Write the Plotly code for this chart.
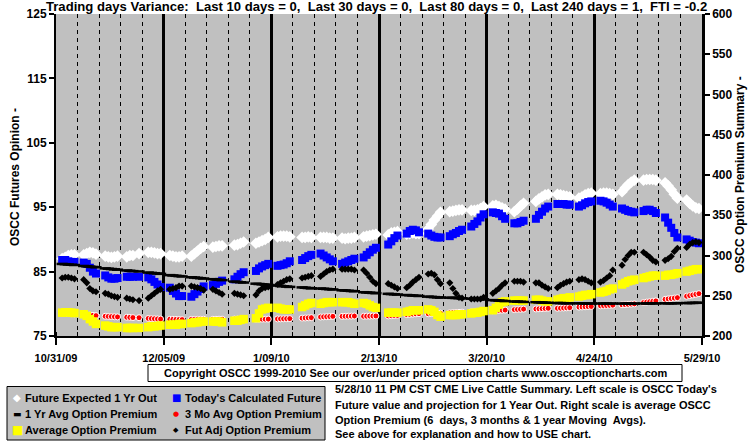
import pandas as pd
import plotly.graph_objects as go

# ---------------- data ----------------
holidays = ["2009-11-26", "2009-12-25", "2010-01-01", "2010-01-18", "2010-02-15", "2010-04-02"]
trade_dates = [d for d in pd.bdate_range("2009-11-02", "2010-05-28")
               if d.strftime("%Y-%m-%d") not in holidays]

tick_dates = ["2009-10-31", "2009-12-05", "2010-01-09", "2010-02-13",
              "2010-03-20", "2010-04-24", "2010-05-29"]
tick_labels = ["10/31/09", "12/05/09", "1/09/10", "2/13/10", "3/20/10", "4/24/10", "5/29/10"]
left_ticks = [75, 85, 95, 105, 115, 125]
left_grid = [80, 85, 90, 95, 100, 105, 110, 115, 120]
right_ticks = [200, 250, 300, 350, 400, 450, 500, 550, 600]

# Future Expected 1 Yr Out (left scale)
future_1yr = [
    87.0, 87.2, 87.5, 87.6, 87.6,
    87.6, 87.8, 88.0, 87.9, 87.7,
    87.4, 87.3, 87.2, 87.3, 87.4,
    87.3, 87.5, 87.5, 87.8,
    88.0, 88.0, 87.9, 87.8, 87.8,
    87.5, 87.4, 87.3, 87.3, 87.4,
    87.4, 87.8, 88.2, 88.6, 88.9,
    88.8, 88.9, 89.0, 89.0,
    89.1, 89.2, 89.4, 89.6,
    89.4, 89.6, 89.8, 90.0, 90.3,
    90.4, 90.5, 90.5, 90.5, 90.4,
    90.3, 90.3, 90.4, 90.3,
    90.3, 90.3, 90.3, 90.2, 90.2,
    90.2, 90.1, 90.2, 90.2, 90.3,
    90.4, 90.5, 90.6, 90.7, 90.8,
    90.7, 91.0, 91.1, 91.2,
    90.8, 90.9, 91.0, 90.9, 90.9,
    91.6, 92.3, 93.0, 93.6, 94.2,
    94.3, 94.4, 94.5, 94.6, 94.6,
    94.5, 94.5, 94.6, 94.8, 95.1,
    95.2, 95.3, 95.1, 94.9, 94.7,
    94.3, 94.7, 95.2, 95.6,
    95.9, 96.3, 96.6, 96.9, 97.0,
    97.0, 96.9, 96.8, 96.7, 96.6,
    96.4, 96.6, 96.9, 97.1, 97.2,
    97.1, 97.2, 97.2, 97.1, 97.0,
    97.4, 98.0, 98.5, 98.9, 99.2,
    99.2, 99.3, 99.3, 99.3, 99.2,
    98.8, 98.3, 97.7, 97.0, 96.4,
    96.1, 95.6, 95.2, 94.9, 94.8,
]

# Today's Calculated Future (left scale)
today_future = [
    86.8, 86.8, 86.6, 86.5, 86.5,
    86.4, 86.2, 85.6, 85.0, 84.7,
    84.4, 84.1, 83.9, 83.9, 84.0,
    84.2, 84.2, 84.2, 84.2,
    84.1, 83.8, 83.4, 83.0, 82.6,
    82.5, 82.0, 81.6, 81.2, 81.2,
    81.1, 81.5, 81.9, 82.3, 82.7,
    82.9, 83.1, 83.4, 83.6,
    83.8, 84.2, 84.6, 84.9,
    85.1, 85.5, 85.8, 86.0, 86.2,
    85.9, 86.0, 86.1, 86.3, 86.6,
    86.8, 87.1, 87.4, 87.6,
    87.8, 87.5, 87.2, 86.9, 86.6,
    86.2, 86.4, 86.6, 86.8, 87.0,
    87.2, 87.6, 88.0, 88.4, 88.7,
    89.2, 89.7, 90.2, 90.6,
    90.9, 91.3, 91.5, 91.4, 91.1,
    90.9, 90.6, 90.4, 90.3, 90.3,
    90.5, 90.8, 91.0, 91.3, 91.5,
    92.0, 92.4, 92.8, 93.4, 93.9,
    94.2, 94.1, 94.0, 93.6, 93.2,
    92.5, 92.5, 92.7, 92.9,
    93.2, 93.8, 94.3, 94.8, 95.1,
    95.5, 95.5, 95.5, 95.4, 95.4,
    95.1, 95.3, 95.6, 95.8, 95.9,
    96.0, 95.9, 95.7, 95.4, 95.1,
    94.8, 94.6, 94.4, 94.3, 94.2,
    94.4, 94.6, 94.6, 94.4, 94.1,
    93.4, 92.6, 91.8, 91.0, 90.3,
    90.0, 89.8, 89.6, 89.5, 89.4,
]

# 1 Yr Avg Option Premium (right scale)
yr_avg = [
    289.5, 289.2, 288.8, 288.5, 288.2,
    287.0, 286.6, 286.2, 285.8, 285.4,
    284.0, 283.6, 283.2, 282.8, 282.4,
    281.4, 281.0, 280.6, 280.2,
    278.8, 278.4, 278.0, 277.6, 277.2,
    275.6, 275.2, 274.8, 274.4, 274.0,
    273.0, 272.6, 272.2, 271.8, 271.4,
    270.6, 270.2, 269.8, 269.4,
    267.6, 267.2, 266.8, 266.4,
    265.0, 264.6, 264.2, 263.8, 263.4,
    262.6, 262.2, 261.8, 261.4, 261.0,
    260.4, 260.0, 259.6, 259.2,
    259.0, 258.7, 258.4, 258.1, 257.8,
    256.8, 256.5, 256.2, 255.9, 255.6,
    254.4, 254.1, 253.8, 253.5, 253.2,
    252.4, 252.1, 251.8, 251.5,
    250.9, 250.6, 250.3, 250.0, 249.7,
    248.9, 248.6, 248.3, 248.0, 247.7,
    247.6, 247.4, 247.2, 247.0, 246.8,
    246.4, 246.2, 246.0, 245.8, 245.6,
    244.6, 244.3, 244.0, 243.7, 243.4,
    242.9, 242.7, 242.5, 242.3,
    242.0, 241.8, 241.6, 241.4, 241.2,
    241.0, 240.9, 240.8, 240.7, 240.6,
    240.6, 240.5, 240.5, 240.4, 240.4,
    240.4, 240.3, 240.3, 240.3, 240.3,
    240.3, 240.3, 240.3, 240.3, 240.3,
    240.4, 240.4, 240.4, 240.5, 240.5,
    240.6, 240.6, 240.7, 240.7, 240.8,
    240.9, 241.0, 241.1, 241.2, 241.3,
]

# 3 Mo Avg Option Premium (right scale)
mo3_avg = [
    228.5, 228.3, 228.0, 227.8, 227.5,
    226.5, 226.2, 225.9, 225.6, 225.3,
    224.5, 224.3, 224.1, 223.9, 223.7,
    223.3, 223.1, 222.9, 222.7,
    221.8, 221.6, 221.4, 221.2, 221.0,
    220.8, 220.7, 220.6, 220.5, 220.4,
    220.6, 220.6, 220.7, 220.7, 220.8,
    220.8, 220.8, 220.9, 220.9,
    221.0, 221.0, 221.1, 221.1,
    220.8, 220.8, 220.9, 220.9, 221.0,
    221.2, 221.3, 221.4, 221.5, 221.6,
    222.2, 222.4, 222.6, 222.8,
    223.6, 223.8, 224.0, 224.2, 224.4,
    224.4, 224.5, 224.6, 224.7, 224.8,
    224.5, 224.6, 224.7, 224.8, 224.9,
    225.0, 225.2, 225.4, 225.6,
    226.6, 226.9, 227.2, 227.5, 227.8,
    227.6, 227.8, 228.0, 228.2, 228.4,
    228.8, 229.0, 229.2, 229.4, 229.6,
    230.0, 230.2, 230.4, 230.6, 230.8,
    231.4, 231.6, 231.8, 232.0, 232.2,
    232.8, 233.0, 233.2, 233.4,
    233.6, 233.8, 234.0, 234.2, 234.4,
    234.4, 234.6, 234.8, 235.0, 235.2,
    235.9, 236.1, 236.3, 236.5, 236.7,
    237.5, 237.7, 237.9, 238.1, 238.3,
    238.8, 239.0, 239.3, 239.6, 239.9,
    241.6, 242.1, 242.6, 243.1, 243.6,
    245.6, 246.1, 246.6, 247.1, 247.6,
    249.4, 250.2, 251.0, 251.8, 252.6,
]

# Average Option Premium (right scale)
avg_prem = [
    229.0, 229.5, 229.5, 229.0, 228.5,
    227.0, 225.0, 221.0, 218.0, 215.0,
    213.0, 212.0, 211.0, 211.0, 211.0,
    210.0, 210.0, 210.0, 210.0,
    211.0, 212.0, 212.0, 212.5, 213.0,
    214.0, 214.0, 214.0, 215.0, 215.0,
    216.0, 217.0, 217.0, 218.0, 218.0,
    218.0, 218.0, 218.0, 217.0,
    219.0, 219.0, 220.0, 221.0,
    222.0, 228.0, 233.0, 234.0, 235.0,
    235.0, 234.0, 233.0, 233.0, 233.0,
    236.0, 238.0, 240.0, 241.0,
    240.0, 241.0, 242.0, 242.0, 242.0,
    242.0, 242.0, 242.0, 241.0, 240.0,
    241.0, 240.0, 238.0, 236.0, 235.0,
    229.0, 229.0, 229.0, 229.0,
    230.0, 231.0, 232.0, 232.0, 232.0,
    233.0, 232.0, 230.0, 226.0, 224.0,
    226.0, 226.0, 226.0, 227.0, 227.0,
    228.0, 229.0, 229.0, 230.0, 231.0,
    232.0, 235.0, 239.0, 242.0, 243.0,
    244.0, 244.0, 244.0, 244.0,
    245.0, 245.0, 244.0, 243.0, 243.0,
    245.0, 246.0, 247.0, 247.0, 248.0,
    249.0, 250.0, 251.0, 251.0, 252.0,
    254.0, 255.0, 256.0, 258.0, 259.0,
    264.0, 266.0, 268.0, 269.0, 270.0,
    272.0, 273.0, 274.0, 275.0, 275.0,
    275.0, 276.0, 276.0, 277.0, 278.0,
    280.0, 281.0, 282.0, 283.0, 283.0,
]

# Fut Adj Option Premium (right scale)
fut_adj = [
    272, 273, 273, 272, 271,
    270, 266, 259, 256, 255,
    253, 252, 250, 249, 248,
    247, 246, 245, 244,
    247, 250, 253, 256, 258,
    258, 259, 260, 262, 262,
    262, 261, 260, 259, 257,
    258, 256, 254, 252,
    253, 252, 251, 250,
    251, 256, 259, 260, 261,
    264, 266, 268, 270, 271,
    272, 273, 274, 275,
    274, 277, 280, 282, 283,
    283, 283, 283, 283, 282,
    282, 278, 273, 268, 265,
    265, 263, 261, 259,
    260, 263, 267, 270, 273,
    277, 278, 276, 270, 265,
    266, 259, 253, 248, 247,
    246, 246, 246, 246, 248,
    253, 256, 259, 263, 266,
    268, 268, 268, 267,
    266, 266, 263, 261, 259,
    260, 263, 265, 267, 268,
    270, 271, 270, 268, 266,
    267, 269, 272, 275, 282,
    288, 295, 300, 304, 304,
    304, 301, 298, 294, 292,
    294, 296, 299, 305, 309,
    310, 314, 316, 317, 316,
]

title_text = ("Trading days Variance:  Last 10 days = 0,  Last 30 days = 0,  "
              "Last 80 days = 0,  Last 240 days = 1,  FTI = -0.2")
copyright_text = ("Copyright OSCC 1999-2010 See our over/under priced option charts "
                  "www.osccoptioncharts.com")
note_lines = [
    "5/28/10 11 PM CST CME Live Cattle Summary. Left scale is OSCC Today's",
    "Future value and projection for 1 Year Out. Right scale is average OSCC",
    "Option Premium (6  days, 3 months &amp; 1 year Moving  Avgs).",
    "See above for explanation and how to USE chart.",
]

# ---------------- layout helpers ----------------
W, H = 755, 446
L, R, T, B = 56, 702, 14, 336


def px(x):
    return (x - L) / (R - L)


def py(y):
    return (B - y) / (B - T)


FONT = "Liberation Sans, Arial, Helvetica, sans-serif"
GLYPH = "DejaVu Sans, sans-serif"

fig = go.Figure()

fig.add_trace(go.Scatter(
    x=trade_dates, y=future_1yr, mode="markers", name="Future Expected 1 Yr Out",
    marker=dict(symbol="diamond", size=9, color="white"), yaxis="y"))
fig.add_trace(go.Scatter(
    x=trade_dates, y=today_future, mode="markers", name="Today's Calculated Future",
    marker=dict(symbol="square", size=8, color="#0000ff"), yaxis="y"))
fig.add_trace(go.Scatter(
    x=trade_dates, y=mo3_avg, mode="markers", name="3 Mo Avg Option Premium",
    marker=dict(symbol="circle", size=6, color="#ff0000", line=dict(color="white", width=1)),
    yaxis="y2"))
fig.add_trace(go.Scatter(
    x=trade_dates, y=avg_prem, mode="markers", name="Average Option Premium",
    marker=dict(symbol="square", size=8.5, color="#ffff00"), yaxis="y2"))
fig.add_trace(go.Scatter(
    x=trade_dates, y=yr_avg, mode="markers", name="1 Yr Avg Option Premium",
    marker=dict(symbol="line-ew", size=8, color="black", line=dict(color="black", width=2.5)),
    yaxis="y2"))
fig.add_trace(go.Scatter(
    x=trade_dates, y=fut_adj, mode="markers", name="Fut Adj Option Premium",
    marker=dict(symbol="diamond", size=5.5, color="black"), yaxis="y2"))

tickfont = dict(family=FONT, size=11, color="black", weight="bold")

fig.update_layout(
    width=W, height=H,
    margin=dict(l=L, r=W - R, t=T, b=H - B, pad=0, autoexpand=False),
    paper_bgcolor="white", plot_bgcolor="#c0c0c0",
    showlegend=False,
    xaxis=dict(
        type="date", range=[tick_dates[0], tick_dates[-1]],
        tickmode="array", tickvals=tick_dates, ticktext=tick_labels,
        showgrid=True, gridcolor="black", gridwidth=2.5,
        ticks="outside", ticklen=7, tickwidth=2, tickcolor="black",
        showline=True, linecolor="black", linewidth=2,
        zeroline=False, tickfont=tickfont, ticklabelstandoff=4,
        automargin=False,
        minor=dict(dtick=7 * 86400000, tick0=tick_dates[0], showgrid=True,
                   gridcolor="black", gridwidth=1, griddash="4px,4px",
                   ticks="inside", ticklen=4, tickcolor="black", tickwidth=1),
    ),
    yaxis=dict(
        range=[75, 125], tickmode="array", tickvals=left_ticks,
        showgrid=False, zeroline=False, automargin=False,
        ticks="outside", ticklen=5, tickwidth=1.5, tickcolor="black",
        showline=True, linecolor="black", linewidth=2,
        tickfont=dict(family=FONT, size=12, color="black", weight="bold"),
    ),
    yaxis2=dict(
        overlaying="y", side="right", anchor="x", automargin=False,
        range=[200, 600], tickmode="array", tickvals=right_ticks,
        showgrid=False, zeroline=False,
        ticks="outside", ticklen=5, tickwidth=1.5, tickcolor="black",
        showline=True, linecolor="black", linewidth=2.5,
        tickfont=dict(family=FONT, size=12, color="black", weight="bold"),
    ),
    yaxis3=dict(
        overlaying="y", side="left", anchor="x", automargin=False,
        range=[75, 125], tickmode="array", tickvals=left_grid,
        showgrid=True, gridcolor="black", gridwidth=1.5,
        showticklabels=False, ticks="", showline=False, zeroline=False,
    ),
)

ann = []
ann.append(dict(x=px(376), y=py(7), text=title_text, showarrow=False,
                xanchor="center", yanchor="middle",
                font=dict(family=FONT, size=13.1, color="black", weight="bold")))
ann.append(dict(x=px(15), y=py(177), text="OSCC Futures Opinion -", showarrow=False,
                textangle=-90, xanchor="center", yanchor="middle",
                font=dict(family=FONT, size=12, color="black", weight="bold")))
ann.append(dict(x=px(740), y=py(175), text="OSCC Option Premium Summary -", showarrow=False,
                textangle=-90, xanchor="center", yanchor="middle",
                font=dict(family=FONT, size=12, color="black", weight="bold")))
ann.append(dict(x=px(415), y=py(373), text=copyright_text, showarrow=False,
                xanchor="center", yanchor="middle",
                font=dict(family=FONT, size=11, color="black", weight="bold")))
note_y = [389, 404.5, 419.5, 434]
for line, yy in zip(note_lines, note_y):
    ann.append(dict(x=px(333), y=py(yy), text=line, showarrow=False,
                    xanchor="left", yanchor="middle",
                    font=dict(family=FONT, size=11, color="black", weight="bold")))

legend_rows = [397.5, 413.5, 430]
legend_cols = [(17, 23), (176, 183)]
legend_items = [
    ("Future Expected 1 Yr Out", "◆", "white", 10),
    ("Today's Calculated Future", "■", "#0000ff", 10),
    ("1 Yr Avg Option Premium", "▬", "black", 9),
    ("3 Mo Avg Option Premium", "●", "#ff0000", 7),
    ("Average Option Premium", "■", "#ffff00", 12),
    ("Fut Adj Option Premium", "◆", "black", 7),
]
for i, (label, g, c, s) in enumerate(legend_items):
    row, col = divmod(i, 2)
    sx, tx = legend_cols[col]
    yy = legend_rows[row]
    ann.append(dict(x=px(sx), y=py(yy), text=g, showarrow=False,
                    xanchor="center", yanchor="middle",
                    font=dict(family=GLYPH, size=s, color=c)))
    ann.append(dict(x=px(tx), y=py(yy), text=label, showarrow=False,
                    xanchor="left", yanchor="middle",
                    font=dict(family=FONT, size=11, color="black", weight="bold")))

for a in ann:
    a.update(xref="paper", yref="paper")
fig.update_layout(annotations=ann)

fig.update_layout(shapes=[
    dict(type="rect", xref="paper", yref="paper", layer="below",
         x0=px(148), x1=px(682), y0=py(381.5), y1=py(364.5),
         fillcolor="white", line=dict(color="black", width=1)),
    dict(type="rect", xref="paper", yref="paper", layer="below",
         x0=px(7), x1=px(325), y0=py(440), y1=py(386.5),
         fillcolor="#c0c0c0", line=dict(color="black", width=1)),
])

fig.write_html(
    "out.html",
    config={"displayModeBar": False},
    post_script="document.body.style.margin='0';document.body.style.overflow='hidden';",
)
